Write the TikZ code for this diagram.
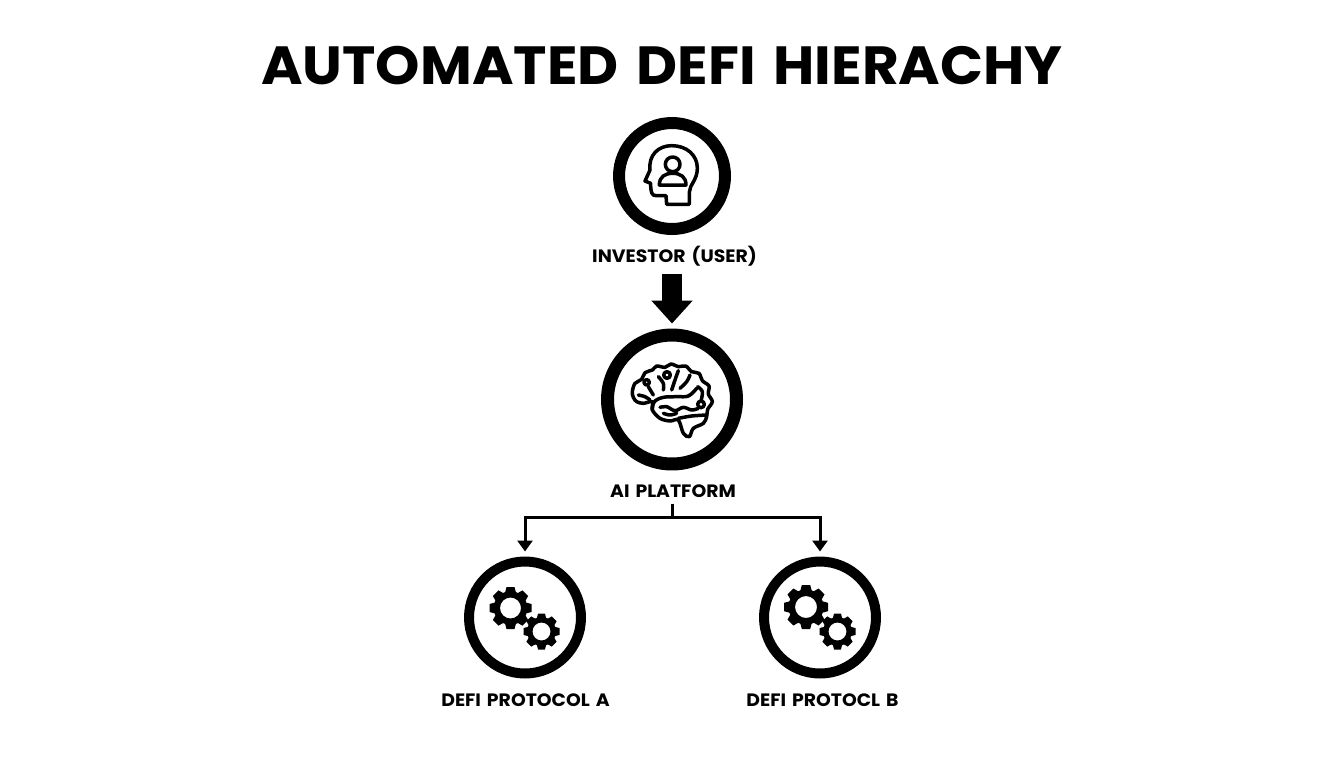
\documentclass[tikz,border=0pt]{standalone}
\usepackage{fontspec}
\setmainfont{Poppins}[FakeStretch=1.05,WordSpace=1.5]
\usepackage{tikz}
\usetikzlibrary{arrows.meta}

\tikzset{
	titletext/.style = {font=\fontsize{30.6}{36}\selectfont\bfseries},
	labeltext/.style = {font=\fontsize{10.2}{13}\selectfont\bfseries},
	bigring/.style = {circle, draw, line width=0.26cm, minimum size=2.58cm},
	userring/.style = {circle, draw, line width=0.24cm, minimum size=2.12cm},
	smallring/.style = {circle, draw, line width=0.2cm, minimum size=2.24cm},
	thin arrow/.style = {line width=0.06cm, -{Triangle[length=0.22cm,width=0.3cm]}},
	fat arrow/.style = {line width=0.4cm, -{Triangle[length=0.46cm,width=0.8cm]}},
	icon line/.style = {line width=0.07cm, line join=round, line cap=round}
}

\newcommand{\gearicon}[2]{
	\begin{scope}[shift={(#1)}]
		\foreach \ang in {0,45,...,315}
			\fill[rotate=\ang, line join=round] (-0.27*#2,0.7*#2) -- (-0.19*#2,#2) -- (0.19*#2,#2) -- (0.27*#2,0.7*#2) -- cycle;
		\fill[even odd rule] (0,0) circle[radius=0.8*#2] (0,0) circle[radius=0.5*#2];
	\end{scope}
}

\begin{document}
\begin{tikzpicture}[x=0.02cm, y=-0.02cm]
	\useasboundingbox (0,0) rectangle (1344,768);

	\node[titletext] (title) at (662,66) {AUTOMATED DEFI HIERACHY};

	\node[userring] (investor) at (672,176) {};
	\node[labeltext] (investorlabel) at (674.5,256) {INVESTOR (USER)};
	\node[bigring] (platform) at (672,399.5) {};
	\node[labeltext] (platformlabel) at (673,491) {AI PLATFORM};
	\node[smallring] (protoa) at (525,617.5) {};
	\node[smallring] (protob) at (820,617.5) {};
	\node[labeltext] (protoalabel) at (525.5,700) {DEFI PROTOCOL A};
	\node[labeltext] (protoblabel) at (822.5,700) {DEFI PROTOCL B};
	\coordinate (branch) at (672,517);

	\draw[fat arrow, shorten <=0.04cm, shorten >=0.1cm] (investorlabel.south -| investor) -- (platform.north);
	\draw[line width=0.06cm] (platformlabel.south -| branch) -- (branch);
	\draw[thin arrow, shorten >=0.1cm] (branch) -| (protoa.north);
	\draw[thin arrow, shorten >=0.1cm] (branch) -| (protob.north);

	% head
	\begin{scope}[shift={(600,105)}, scale=1/3, icon line]
		\draw (268,298) -- (200,298) -- (198,272) -- (168,272)
			.. controls (155,272) and (152,262) .. (152,235)
			-- (135,228) -- (150,195)
			.. controls (145,150) and (175,122) .. (215,122)
			.. controls (260,122) and (292,150) .. (292,190)
			.. controls (292,225) and (268,240) .. (268,262) -- cycle;
		\draw (218,178) circle[radius=22];
		\draw (178,240) .. controls (178,215) and (195,205) .. (218,205)
			.. controls (241,205) and (258,215) .. (258,240) -- cycle;
	\end{scope}

	% brain
	\begin{scope}[shift={(595,320)}, scale=1/3, icon line]
		\draw plot[smooth cycle, tension=0.55] coordinates {(112,215) (120,190) (140,178) (150,158) (172,150) (185,138) (210,142) (228,132) (250,140) (272,138) (290,155) (312,160) (322,182) (342,198) (340,222) (352,245) (338,268) (335,290) (325,310) (295,325) (283,350) (265,340) (250,300) (225,303) (195,295) (172,270) (172,245) (145,250) (125,245) (115,232)};
		\draw plot[smooth, tension=0.6] coordinates {(172,270) (178,245) (205,232) (245,230) (280,228) (305,205)};
		\draw plot[smooth, tension=0.6] coordinates {(195,262) (215,260) (240,272) (265,262) (290,270) (310,265)};
		\draw plot[smooth, tension=0.6] coordinates {(250,295) (290,288) (335,285)};
		\draw plot[smooth, tension=0.6] coordinates {(205,210) (205,190) (190,170)};
		\draw plot[smooth, tension=0.6] coordinates {(230,210) (240,180) (250,152)};
		\draw plot[smooth, tension=0.6] coordinates {(255,205) (275,185) (285,165)};
		\draw plot[smooth, tension=0.6] coordinates {(160,200) (175,225)};
		\draw plot[smooth, tension=0.6] coordinates {(130,225) (150,230) (165,240)};
		\draw plot[smooth, tension=0.6] coordinates {(318,243) (322,215) (308,200)};
		\draw plot[smooth, tension=0.6] coordinates {(205,280) (225,285) (245,280)};
		\draw (216,165) circle[radius=10];
		\draw (155,187) circle[radius=8];
		\draw (318,253) circle[radius=10];
	\end{scope}

	% gears
	\gearicon{510.5,608}{21}
	\gearicon{541.5,631.5}{18}
	\gearicon{806,607}{22}
	\gearicon{837.5,631.5}{18}
\end{tikzpicture}
\end{document}
